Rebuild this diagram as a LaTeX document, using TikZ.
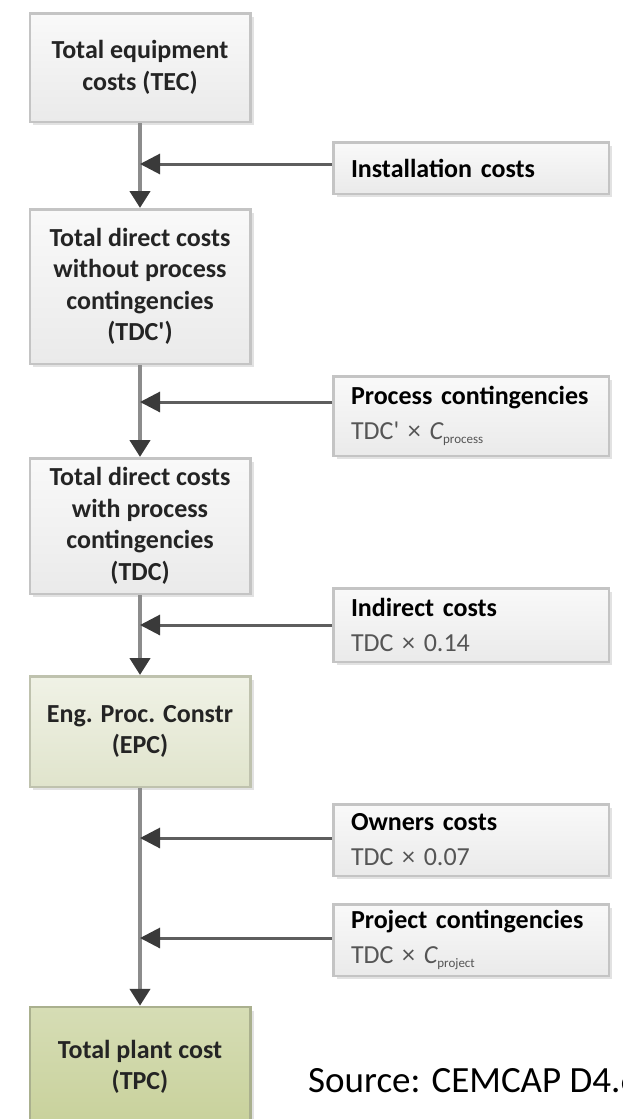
\documentclass[tikz,border=0pt]{standalone}
\usepackage{fontspec}
\setmainfont{Carlito}
\usetikzlibrary{arrows.meta,shadows}
\definecolor{boxborder}{HTML}{C4C4C4}
\definecolor{boxtop}{HTML}{F9F9F9}
\definecolor{boxbot}{HTML}{EAEAEA}
\definecolor{epctop}{HTML}{F0F2E6}
\definecolor{epcbot}{HTML}{E0E4CC}
\definecolor{epcborder}{HTML}{BFC2AE}
\definecolor{tpctop}{HTML}{D6DDB5}
\definecolor{tpcbot}{HTML}{C8D19B}
\definecolor{tpcborder}{HTML}{AAB08E}
\definecolor{mainline}{HTML}{8C8C8C}
\definecolor{sideline}{HTML}{5E5E5E}
\definecolor{tipcol}{HTML}{3A3A3A}
\definecolor{txt}{HTML}{242424}
\definecolor{subtxt}{HTML}{555555}
\definecolor{shadowcol}{HTML}{E2E2E2}
\tikzset{
  basebox/.style={draw=boxborder, line width=2.5pt, top color=boxtop, bottom color=boxbot,
    drop shadow={shadow xshift=3.5pt, shadow yshift=-3.5pt, fill=shadowcol, opacity=1}, inner sep=0pt},
  leftbox/.style={basebox, minimum width=220.5pt, align=center, text=txt,
    font=\fontsize{26}{31.5}\selectfont\bfseries},
  epcbox/.style={leftbox, draw=epcborder, top color=epctop, bottom color=epcbot},
  tpcbox/.style={leftbox, draw=tpcborder, top color=tpctop, bottom color=tpcbot},
  rightbox/.style={basebox, minimum width=275.5pt, text width=240pt, align=left, inner xsep=17.75pt,
    text=black, font=\fontsize{26}{35}\selectfont},
  mainconn/.style={draw=mainline, line width=4.5pt, -{Triangle[length=17pt,width=20pt,color=tipcol]}},
  sideconn/.style={draw=sideline, line width=3pt, -{Triangle[length=20pt,width=20pt,color=tipcol]}},
}
\newcommand{\subline}[1]{{\color{subtxt}\mdseries #1}}
\newcommand{\smallsub}[1]{\raisebox{-4pt}{\fontsize{13}{13}\selectfont #1}}
\begin{document}
\begin{tikzpicture}[x=1pt,y=-1pt]
\useasboundingbox (0,0) rectangle (623,1119);
\clip (0,0) rectangle (623,1119);
% left column
\node[leftbox, minimum height=108.5pt] (tec) at (140,67.5) {Total equipment\\costs (TEC)};
\node[leftbox, minimum height=154.5pt] (tdcp) at (140,286.5) {Total direct costs\\without process\\contingencies\\(TDC\textquotesingle)};
\node[leftbox, minimum height=135.5pt] (tdc) at (140,526) {Total direct costs\\with process\\contingencies\\(TDC)};
\node[epcbox, minimum height=110.5pt] (epc) at (140,731.5) {Eng. Proc. Constr\\(EPC)};
\node[tpcbox, minimum height=120pt] (tpc) at (140,1067) {Total plant cost\\(TPC)};
% right column
\node[rightbox, minimum height=51.5pt] (inst) at (471,168) {\textbf{Installation costs}};
\node[rightbox, minimum height=79.5pt] (proc) at (471,416) {\textbf{Process contingencies}\\\subline{TDC\textquotesingle{} × {\itshape C}\smallsub{process}}};
\node[rightbox, minimum height=73.5pt] (ind) at (471,625) {\textbf{Indirect costs}\\\subline{TDC × 0.14}};
\node[rightbox, minimum height=71.5pt] (own) at (471,840) {\textbf{Owners costs}\\\subline{TDC × 0.07}};
\node[rightbox, minimum height=71.5pt] (proj) at (471,940) {\textbf{Project contingencies}\\\subline{TDC × {\itshape C}\smallsub{project}}};
% junctions
\coordinate (j1) at (140,164);
\coordinate (j2) at (140,402);
\coordinate (j3) at (140,625);
\coordinate (j4) at (140,838);
\coordinate (j5) at (140,938);
% main flow
\draw[mainconn] (tec.south) -- (tdcp.north);
\draw[mainconn] (tdcp.south) -- (tdc.north);
\draw[mainconn] (tdc.south) -- (epc.north);
\draw[mainconn] (epc.south) -- (tpc.north);
% side inputs
\draw[sideconn] (inst.west |- j1) -- (j1);
\draw[sideconn] (proc.west |- j2) -- (j2);
\draw[sideconn] (ind.west |- j3) -- (j3);
\draw[sideconn] (own.west |- j4) -- (j4);
\draw[sideconn] (proj.west |- j5) -- (j5);
% source
\node[anchor=base west, inner sep=0pt, font=\fontsize{37}{40}\selectfont] (src) at (308,1092) {Source: CEMCAP D4.6};
\end{tikzpicture}
\end{document}
